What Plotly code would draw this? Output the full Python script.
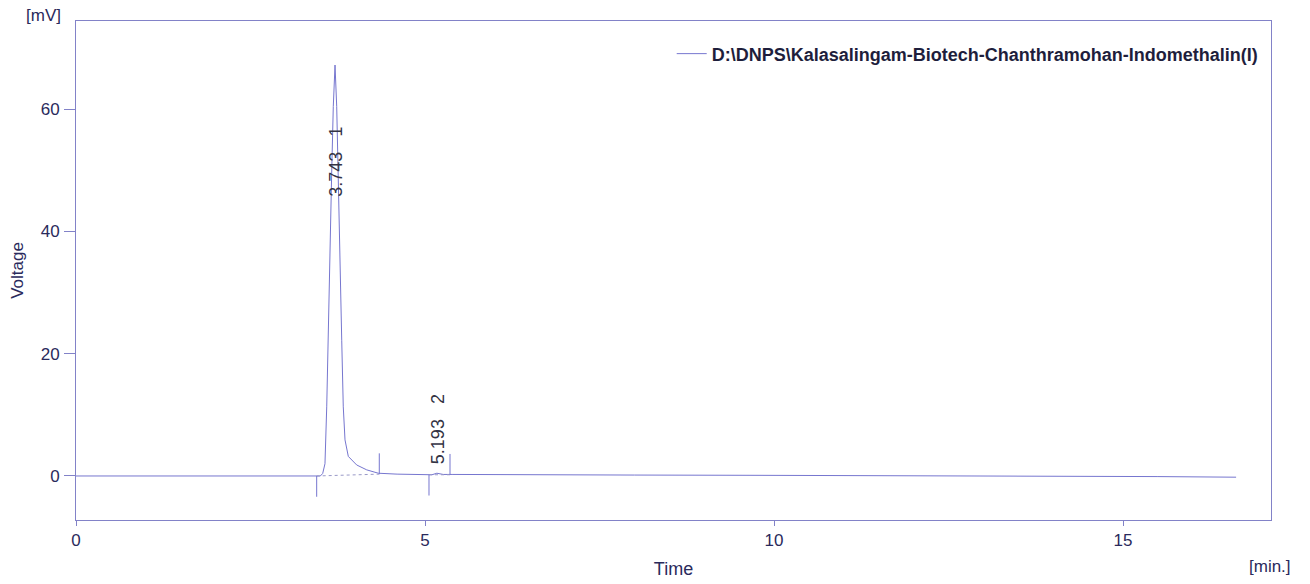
import plotly.graph_objects as go

# ---- data ----
time_min = [0.0, 1.0, 2.0, 3.0, 3.40, 3.448, 3.50, 3.534, 3.567, 3.592, 3.615, 3.639,
            3.663, 3.686, 3.711, 3.735, 3.758, 3.782, 3.807, 3.829, 3.854, 3.901,
            4.021, 4.165, 4.331, 4.60, 5.00, 5.10, 5.17, 5.21, 5.26, 5.40, 6.0,
            8.0, 10.0, 12.0, 14.0, 15.5, 16.62]
voltage_mv = [0.0, 0.0, 0.0, 0.0, 0.0, -0.1, 0.0, 0.4, 2.0, 11.3, 25.0, 38.6,
              49.5, 60.4, 67.2, 60.4, 46.8, 33.2, 22.2, 11.3, 5.9, 3.2,
              1.8, 1.0, 0.45, 0.3, 0.25, 0.2, 0.45, 0.4, 0.25, 0.25, 0.2,
              0.15, 0.1, 0.05, 0.0, -0.1, -0.2]

series_name = "D:\\DNPS\\Kalasalingam-Biotech-Chanthramohan-Indomethalin(I)"

peak_label = ["3.743\u00a0\u00a0\u00a01", "5.193\u00a0\u00a0\u00a02"]
peak_label_time = [3.725, 5.19]
peak_label_mv = [51.4, 7.7]

peak_start = [3.448, 5.057]
peak_end = [4.345, 5.358]
peak_start_base_mv = [0.0, 0.2]
peak_end_base_mv = [0.3, 0.2]
marker_len_mv = 3.4

x_ticks = [0, 5, 10, 15]
y_ticks = [0, 20, 40, 60]
x_range = [0, 17.12]
y_range = [-7.2, 74.4]

LINE = "#7676cf"
AXIS = "#8282c8"
TEXT = "#2a2a5c"
FONT = "Liberation Sans, Arial, sans-serif"

fig = go.Figure()

fig.add_trace(go.Scatter(
    x=time_min, y=voltage_mv, mode="lines", name=series_name,
    line=dict(color=LINE, width=1), showlegend=True, hoverinfo="skip"))

# integration baselines (dotted)
bx, by = [], []
for s, e, sb, eb in zip(peak_start, peak_end, peak_start_base_mv, peak_end_base_mv):
    bx += [s, e, None]
    by += [sb, eb, None]
fig.add_trace(go.Scatter(x=bx, y=by, mode="lines", showlegend=False,
                         line=dict(color="#9a9ac8", width=1, dash="dot"),
                         hoverinfo="skip"))

# peak start (down) / end (up) markers
mx, my = [], []
for s, sb in zip(peak_start, peak_start_base_mv):
    mx += [s, s, None]
    my += [sb, sb - marker_len_mv, None]
for e, eb in zip(peak_end, peak_end_base_mv):
    mx += [e, e, None]
    my += [eb, eb + marker_len_mv, None]
fig.add_trace(go.Scatter(x=mx, y=my, mode="lines", showlegend=False,
                         line=dict(color=LINE, width=1), hoverinfo="skip"))

for lab, t, v in zip(peak_label, peak_label_time, peak_label_mv):
    fig.add_annotation(x=t, y=v, text=lab, textangle=-90, showarrow=False,
                       xanchor="center", yanchor="middle",
                       font=dict(family=FONT, size=18, color="#333344"))

fig.add_annotation(x=-0.0276, y=1.0, xref="paper", yref="paper", text="[mV]",
                   showarrow=False, xanchor="center", yanchor="bottom", yshift=-6,
                   font=dict(family=FONT, size=17, color=TEXT))
fig.add_annotation(x=1.0, y=0, xref="paper", yref="paper", text="[min.]",
                   showarrow=False, xanchor="center", yanchor="middle",
                   yshift=-46, xshift=-1,
                   font=dict(family=FONT, size=17, color=TEXT))

fig.update_layout(
    width=1310, height=584,
    margin=dict(l=76, r=39, t=21, b=64),
    paper_bgcolor="white", plot_bgcolor="white",
    font=dict(family=FONT, color=TEXT, size=17),
    legend=dict(x=0.4985, y=0.934, xanchor="left", yanchor="middle",
                bgcolor="rgba(0,0,0,0)", borderwidth=0,
                font=dict(family=FONT, size=18, color="#1e1e3c", weight="bold")),
    xaxis=dict(range=x_range, tickvals=x_ticks, ticks="outside", ticklen=5,
               tickcolor=AXIS, showline=True, linecolor=AXIS, linewidth=1,
               mirror=True, showgrid=False, zeroline=False, automargin=False,
               ticklabelstandoff=0,
               tickfont=dict(family=FONT, size=17, color=TEXT),
               title=dict(text="Time", standoff=12,
                          font=dict(family=FONT, size=18, color=TEXT))),
    yaxis=dict(range=y_range, tickvals=y_ticks, ticks="outside", ticklen=11,
               tickcolor=AXIS, showline=True, linecolor=AXIS, linewidth=1,
               mirror=True, showgrid=False, zeroline=False, automargin=False,
               ticklabelstandoff=1,
               tickfont=dict(family=FONT, size=17, color=TEXT),
               title=dict(text="Voltage", standoff=12,
                          font=dict(family=FONT, size=17, color=TEXT))),
)

fig.write_html("out.html", config={"displayModeBar": False},
               post_script="document.body.style.margin='0';document.body.style.padding='0';")
